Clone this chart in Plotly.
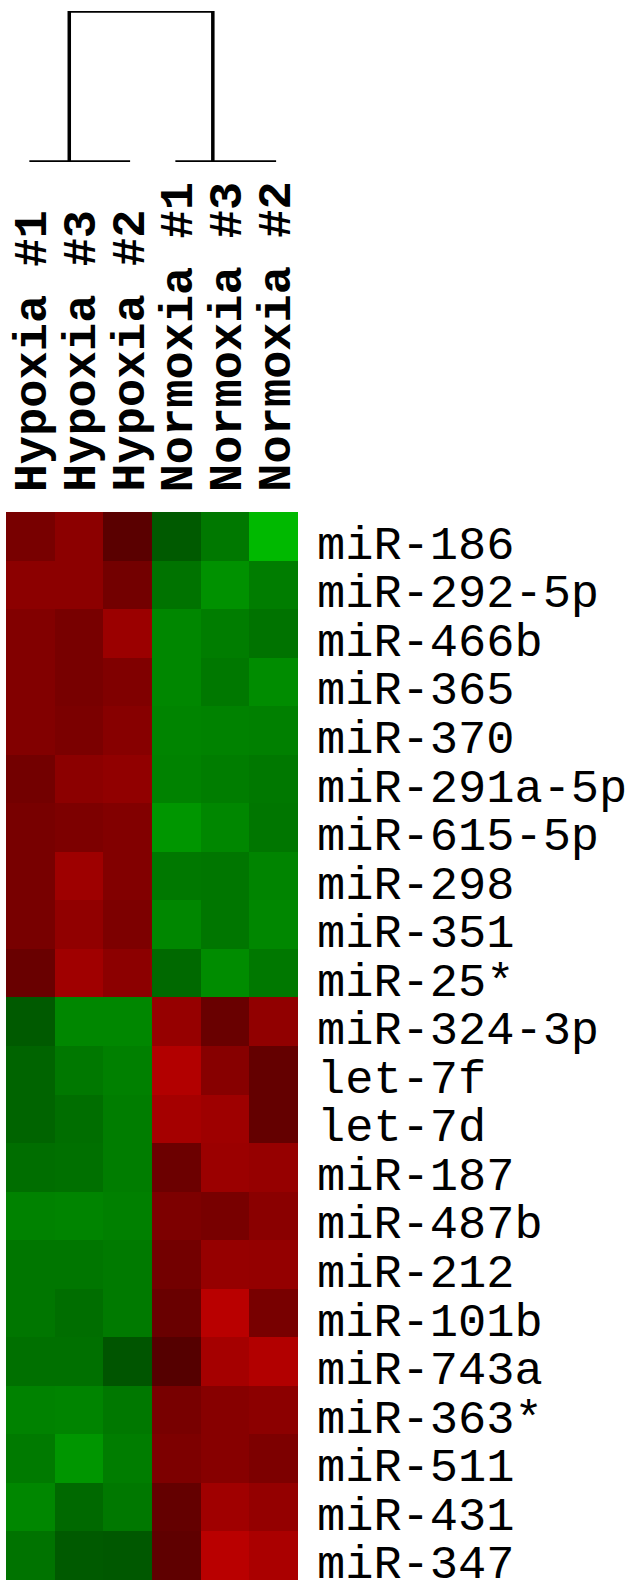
import plotly.graph_objects as go

# ---- data ----
samples = ["Hypoxia #1", "Hypoxia #3", "Hypoxia #2", "Normoxia #1", "Normoxia #3", "Normoxia #2"]
mirnas = ["miR-186", "miR-292-5p", "miR-466b", "miR-365", "miR-370", "miR-291a-5p",
          "miR-615-5p", "miR-298", "miR-351", "miR-25*", "miR-324-3p", "let-7f",
          "let-7d", "miR-187", "miR-487b", "miR-212", "miR-101b", "miR-743a",
          "miR-363*", "miR-511", "miR-431", "miR-347"]
# signed colour intensity: positive = red (up), negative = green (down)
expression = [
    [120, 140, 90, -90, -120, -185],
    [140, 140, 115, -115, -145, -125],
    [130, 120, 155, -135, -125, -115],
    [130, 120, 128, -135, -120, -140],
    [130, 123, 135, -132, -130, -128],
    [115, 140, 145, -130, -125, -120],
    [120, 125, 130, -150, -135, -118],
    [120, 158, 130, -120, -118, -132],
    [120, 145, 125, -135, -118, -135],
    [105, 160, 140, -105, -140, -120],
    [-90, -135, -135, 150, 105, 145],
    [-100, -120, -128, 178, 135, 100],
    [-100, -110, -125, 165, 158, 100],
    [-110, -112, -125, 108, 155, 150],
    [-130, -132, -128, 125, 120, 138],
    [-118, -118, -122, 115, 150, 148],
    [-118, -110, -122, 105, 185, 120],
    [-112, -112, -85, 85, 165, 178],
    [-130, -132, -120, 120, 135, 140],
    [-122, -150, -125, 125, 135, 125],
    [-135, -105, -120, 100, 160, 148],
    [-115, -90, -88, 95, 185, 170],
]
# dendrogram: two clusters of three leaves, joined at the root
cluster_leaves = [[0, 1, 2], [3, 4, 5]]
cluster_node_x = [0.8, 3.75]
cluster_height = 0.0
root_height = 1.0

W, H = 634, 1584
heat_left, heat_right, heat_top, heat_bottom = 6, 298, 512, 1580
dendro_top, dendro_bottom = 11, 162

col_idx = list(range(len(samples)))
row_idx = list(range(len(mirnas)))

fig = go.Figure()
fig.add_trace(go.Heatmap(
    z=expression, x=col_idx, y=row_idx,
    zmin=-255, zmax=255,
    colorscale=[[0, "rgb(0,255,0)"], [0.5, "rgb(0,0,0)"], [1, "rgb(255,0,0)"]],
    showscale=False, hoverinfo="skip",
))

# dendrogram lines
dx, dy = [], []
for leaves in cluster_leaves:
    dx += [min(leaves) - 0.02, max(leaves) + 0.05, None]
    dy += [cluster_height, cluster_height, None]
dx += [cluster_node_x[0], cluster_node_x[0], cluster_node_x[1], cluster_node_x[1]]
dy += [cluster_height, root_height, root_height, cluster_height]
fig.add_trace(go.Scatter(x=dx, y=dy, mode="lines", xaxis="x", yaxis="y2",
                         line=dict(color="black", width=3.5), hoverinfo="skip",
                         showlegend=False))

font_mono = "Liberation Mono, Courier New, monospace"
annotations = []
for i, name in enumerate(mirnas):
    annotations.append(dict(
        x=(heat_right + 17) / W, xref="paper", xanchor="left",
        y=i, yref="y", yanchor="middle", yshift=-10,
        text=name, showarrow=False,
        font=dict(family=font_mono, size=47, color="black"),
    ))
for j, name in enumerate(samples):
    annotations.append(dict(
        x=j, xref="x", xanchor="center", xshift=3,
        y=(H - 494) / H, yref="paper", yanchor="bottom",
        text="<b>" + name + "</b>", showarrow=False, textangle=-90,
        font=dict(family=font_mono, size=47, color="black"),
    ))

hidden = dict(showgrid=False, zeroline=False, showticklabels=False, ticks="",
              showline=False)
fig.update_layout(
    width=W, height=H,
    margin=dict(l=0, r=0, t=0, b=0),
    paper_bgcolor="white", plot_bgcolor="white",
    showlegend=False,
    xaxis=dict(domain=[heat_left / W, heat_right / W], range=[-0.5, 5.5], **hidden),
    yaxis=dict(domain=[(H - heat_bottom) / H, (H - heat_top) / H],
               range=[len(mirnas) - 0.5, -0.5], **hidden),
    yaxis2=dict(domain=[(H - dendro_bottom) / H, (H - dendro_top) / H],
                range=[0, 1], anchor="x", **hidden),
    annotations=annotations,
)
fig.write_html("out.html",
               config={"displayModeBar": False, "staticPlot": True},
               post_script="document.body.style.margin='0';document.body.style.overflow='hidden';")
